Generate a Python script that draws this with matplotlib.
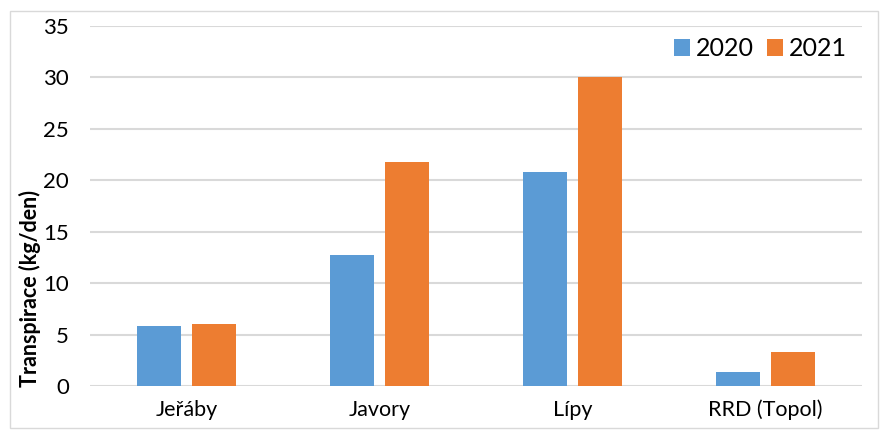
import matplotlib.pyplot as plt
import numpy as np
from matplotlib.patches import Rectangle

plt.rcParams['font.family'] = ['Lato', 'DejaVu Sans']

categories = ['Jeřáby', 'Javory', 'Lípy', 'RRD (Topol)']
values_2020 = [5.8, 12.7, 20.8, 1.35]
values_2021 = [6.05, 21.8, 30.0, 3.3]

fig = plt.figure(figsize=(8.86, 4.30), dpi=100)
ax = fig.add_axes([90/886, 1 - 386/430, 772/886, 360/430])

# light frame round the chart area
fig.patches.append(Rectangle((10/886, 1 - 428/430), 868/886, 417/430,
                             transform=fig.transFigure, fill=False,
                             edgecolor='#d9d9d9', linewidth=1))

x = np.arange(len(categories))
w = 0.223
gap = 0.062
ax.bar(x - (w + gap)/2, values_2020, w, color='#5B9BD5', label='2020', zorder=3)
ax.bar(x + (w + gap)/2, values_2021, w, color='#ED7D31', label='2021', zorder=3)

ax.set_xlim(-0.5, len(categories) - 0.5)
ax.set_ylim(0, 35)
ax.set_yticks(range(0, 36, 5))
ax.set_xticks(x)
ax.set_xticklabels(categories, fontsize=15.5)
ax.tick_params(axis='y', labelsize=16, length=0, pad=15)
ax.tick_params(axis='x', length=0, pad=10)
ax.yaxis.grid(True, color='#d9d9d9', linewidth=1.5, zorder=0)
for s in ax.spines.values():
    s.set_visible(False)

ax.set_ylabel('Transpirace (kg/den)', fontsize=15.5, fontweight='bold')
ax.yaxis.set_label_coords(-49/772, 0.27)

ax.legend(loc='upper right', bbox_to_anchor=(1.0, 1.01), frameon=False,
          fontsize=18, handlelength=0.65, handleheight=0.65, handletextpad=0.25,
          columnspacing=0.5, ncol=2, borderaxespad=0.2)

fig.savefig('out.png', dpi=100)
